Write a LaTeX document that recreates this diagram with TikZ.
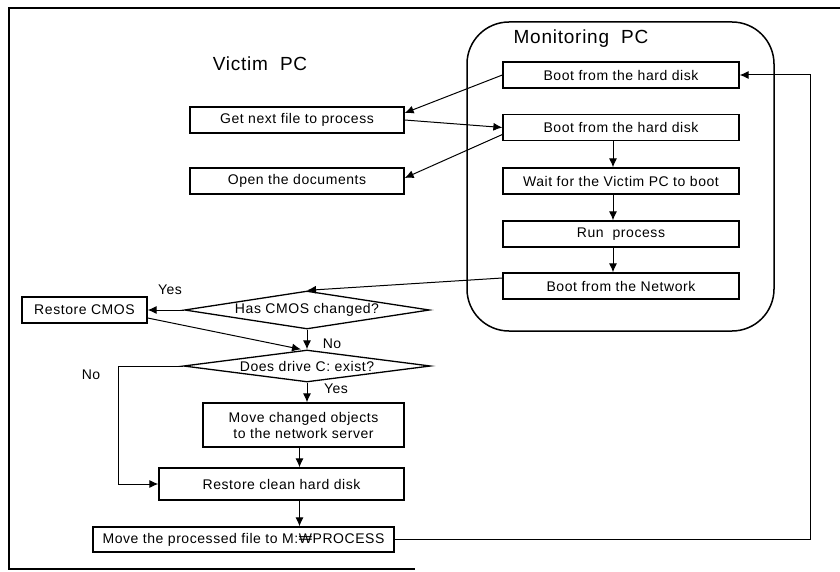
\documentclass[tikz,border=0pt]{standalone}
\usepackage{fontspec}
\setmainfont{Liberation Sans}[LetterSpace=4]
\usetikzlibrary{arrows.meta,shapes.geometric}
\begin{document}
\begin{tikzpicture}[x=1pt,y=-1pt,
  every node/.style={font=\fontsize{14}{16}\selectfont},
  box/.style={draw, line width=1.3pt, inner sep=0pt, align=center},
  dia/.style={draw, line width=1.3pt, diamond, aspect=6.4, inner sep=0pt},
  title/.style={font=\fontsize{19}{21}\selectfont},
  lbl/.style={inner sep=0pt},
  arr/.style={line width=1pt, -{Latex[length=9pt,width=8pt]}},
  con/.style={line width=1pt}
]
\useasboundingbox (0,0) rectangle (840,572);
% outer frame
\draw[line width=1.8pt] (840,8) -- (9,8) -- (9,569) -- (415,569);

% Monitoring PC container
\node[draw, line width=1.5pt, rounded corners=42pt, minimum width=307pt, minimum height=309pt, inner sep=0pt] (mon) at (620.5,176.5) {};
\node[title] (montitle) at (581,39) {Monitoring\ \ PC};
\node[title] (victitle) at (260,64) {Victim\ \ PC};

% Monitoring boxes
\node[box, minimum width=236pt, minimum height=26pt] (b1) at (621,75) {Boot from the hard disk};
\node[box, minimum width=236pt, minimum height=26pt] (b2) at (621,127.5) {Boot from the hard disk};
\node[box, minimum width=236pt, minimum height=26pt] (b3) at (621,181) {Wait for the Victim PC to boot};
\node[box, minimum width=236pt, minimum height=26pt] (b4) at (621,234) {Run\ \ process};
\node[box, minimum width=236pt, minimum height=26pt] (b5) at (621,286) {Boot from the Network};

% Victim boxes
\node[box, minimum width=214pt, minimum height=26pt] (v1) at (297,120) {Get next file to process};
\node[box, minimum width=214pt, minimum height=26pt] (v2) at (297,181) {Open the documents};

% Decision part
\node[dia, minimum width=245pt, minimum height=38pt] (d1) at (307,310) {Has CMOS changed?};
\node[dia, minimum width=247pt, minimum height=32pt] (d2) at (307,366) {Does drive C: exist?};
\node[box, minimum width=125pt, minimum height=26pt] (rc) at (84.5,310) {Restore CMOS};
\node[box, minimum width=201pt, minimum height=44pt] (mc) at (303.5,425) {Move changed objects\\to the network server};
\node[box, minimum width=245pt, minimum height=32pt] (rcl) at (281.5,484) {Restore clean hard disk};
\node[box, minimum width=301pt, minimum height=25pt] (mp) at (243.5,539.5) {Move the processed file to M:₩PROCESS};

% labels
\node[lbl] (yes1) at (170,290) {Yes};
\node[lbl] (no1) at (332,344) {No};
\node[lbl] (no2) at (91,375) {No};
\node[lbl] (yes2) at (336,389) {Yes};

% coordinates
\coordinate (nocorner) at (118,366);
\coordinate (fbcorner) at (810,539.5);

% connectors
\draw[arr] (b1.west) -- ([yshift=7pt]v1.east);
\draw[arr] (v1.east) -- (b2.west);
\draw[arr] ([yshift=-7pt]b2.west) -- ([yshift=3pt]v2.east);
\draw[arr] ([xshift=-8pt]b2.south) -- ([xshift=-8pt]b3.north);
\draw[arr] ([xshift=-8pt]b3.south) -- ([xshift=-8pt]b4.north);
\draw[arr] ([xshift=-8pt]b4.south) -- ([xshift=-8pt]b5.north);
\draw[arr] ([yshift=8pt]b5.west) -- (d1.north);
\draw[arr] (d1.west) -- (rc.east);
\draw[arr] ([yshift=-8pt]rc.east) -- ([xshift=-6pt]d2.north);
\draw[arr] (d1.south) -- (d2.north);
\draw[arr] (d2.west) -- (nocorner) |- (rcl.west);
\draw[arr] (d2.south) -- (d2.south |- mc.north);
\draw[arr] ([xshift=-4pt]mc.south) -- ([xshift=-4pt]mc.south |- rcl.north);
\draw[arr] ([xshift=-4pt]mc.south |- rcl.south) -- ([xshift=-4pt]mc.south |- mp.north);
\draw[arr] (mp.east) -- (fbcorner) |- (b1.east);
\end{tikzpicture}
\end{document}
